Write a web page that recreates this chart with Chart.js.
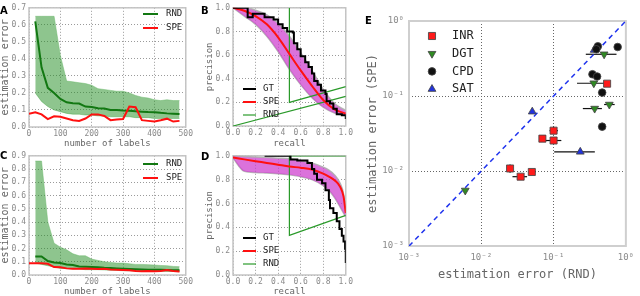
<!DOCTYPE html>
<html lang="en">
<head>
<meta charset="UTF-8">
<title>Estimation error figure</title>
<style>
  body { margin: 0; background: #fff; width: 640px; height: 296px; position: relative; overflow: hidden; }
  canvas { position: absolute; }
  .tag { position: absolute; font: bold 10px "DejaVu Sans", sans-serif; line-height: 1; color: #000; }
</style>
<script src="https://cdn.jsdelivr.net/npm/chart.js"></script>
</head>
<body>
<canvas id="chartA" width="195" height="148" style="left:0;top:0"></canvas>
<canvas id="chartC" width="195" height="148" style="left:0;top:148px"></canvas>
<canvas id="chartB" width="155" height="148" style="left:200px;top:0"></canvas>
<canvas id="chartD" width="155" height="148" style="left:200px;top:148px"></canvas>
<canvas id="chartE" width="278" height="296" style="left:362px;top:0"></canvas>
<div class="tag" style="left:0;top:6px">A</div>
<div class="tag" style="left:201px;top:6px">B</div>
<div class="tag" style="left:0;top:151px">C</div>
<div class="tag" style="left:201px;top:152px">D</div>
<div class="tag" style="left:365px;top:16px">E</div>

<script>
// ---------- data: A and C (error vs number of labels) ----------
const labelCounts = [20, 40, 60, 80, 100, 120, 140, 160, 180, 200, 220, 240, 260, 280, 300, 320, 340, 360, 380, 400, 420, 440, 460, 480];
const speCounts = [0, 20, 40, 60, 80, 100, 120, 140, 160, 180, 200, 220, 240, 260, 280, 300, 320, 340, 360, 380, 400, 420, 440, 460, 480];

const rndMeanA = [0.62, 0.35, 0.23, 0.2, 0.165, 0.145, 0.14, 0.138, 0.12, 0.118, 0.11, 0.108, 0.1, 0.1, 0.097, 0.095, 0.092, 0.09, 0.088, 0.087, 0.083, 0.08, 0.078, 0.076];
const rndHighA = [0.65, 0.65, 0.65, 0.65, 0.42, 0.27, 0.265, 0.26, 0.255, 0.245, 0.225, 0.22, 0.215, 0.21, 0.21, 0.2, 0.185, 0.175, 0.17, 0.16, 0.155, 0.16, 0.155, 0.155];
const rndLowA = [0.2, 0.15, 0.12, 0.1, 0.09, 0.08, 0.075, 0.075, 0.07, 0.07, 0.065, 0.065, 0.06, 0.06, 0.06, 0.06, 0.055, 0.055, 0.055, 0.05, 0.05, 0.05, 0.05, 0.05];
const speA = [0.078, 0.087, 0.074, 0.046, 0.063, 0.06, 0.05, 0.04, 0.036, 0.05, 0.074, 0.074, 0.065, 0.04, 0.044, 0.047, 0.12, 0.116, 0.04, 0.036, 0.032, 0.04, 0.049, 0.032, 0.036];

const rndMeanC = [0.14, 0.14, 0.105, 0.095, 0.09, 0.08, 0.075, 0.065, 0.062, 0.06, 0.058, 0.054, 0.052, 0.05, 0.047, 0.045, 0.043, 0.042, 0.04, 0.04, 0.04, 0.038, 0.036, 0.035];
const rndHighC = [0.86, 0.86, 0.4, 0.24, 0.21, 0.19, 0.16, 0.145, 0.145, 0.12, 0.11, 0.1, 0.095, 0.09, 0.09, 0.085, 0.08, 0.08, 0.078, 0.075, 0.072, 0.07, 0.065, 0.063];
const rndLowC = [0.09, 0.08, 0.07, 0.06, 0.05, 0.05, 0.045, 0.045, 0.04, 0.04, 0.04, 0.038, 0.036, 0.035, 0.032, 0.032, 0.03, 0.03, 0.03, 0.028, 0.028, 0.027, 0.027, 0.025];
const speC = [0.088, 0.088, 0.088, 0.085, 0.06, 0.058, 0.05, 0.048, 0.048, 0.05, 0.048, 0.045, 0.047, 0.042, 0.04, 0.037, 0.035, 0.03, 0.028, 0.03, 0.028, 0.03, 0.037, 0.03, 0.027];

// ---------- data: B and D (precision vs recall) ----------
const recallB = [0, 0.1, 0.2, 0.3, 0.4, 0.5, 0.6, 0.7, 0.8, 0.9, 1.0];
const speB = [1.0, 0.975, 0.93, 0.86, 0.75, 0.61, 0.47, 0.34, 0.22, 0.14, 0.105];
const speHighB = [1.0, 1.0, 0.98, 0.94, 0.87, 0.76, 0.62, 0.47, 0.31, 0.19, 0.13];
const speLowB = [1.0, 0.93, 0.86, 0.76, 0.63, 0.48, 0.35, 0.24, 0.16, 0.11, 0.09];
const gtRecallB = [0, 0.13, 0.175, 0.28, 0.36, 0.4, 0.44, 0.48, 0.53, 0.54, 0.57, 0.6, 0.64, 0.67, 0.7, 0.72, 0.75, 0.78, 0.82, 0.83, 0.86, 0.89, 0.92, 0.965, 1.0];
const gtPrecB = [1.0, 0.92, 0.95, 0.92, 0.9, 0.86, 0.83, 0.8, 0.79, 0.7, 0.65, 0.59, 0.54, 0.5, 0.445, 0.38, 0.35, 0.3, 0.27, 0.21, 0.19, 0.145, 0.1, 0.09, 0.06];
const rndRecallB1 = [0.5, 0.5, 1.0];
const rndPrecB1 = [1.0, 0.2, 0.333];
const rndRecallB2 = [0, 1.0];
const rndPrecB2 = [0, 0.25];

const recallD = [0, 0.1, 0.2, 0.3, 0.4, 0.5, 0.6, 0.7, 0.8, 0.85, 0.9, 0.95, 0.98, 1.0];
const speD = [0.985, 0.97, 0.955, 0.94, 0.925, 0.91, 0.9, 0.885, 0.85, 0.825, 0.795, 0.74, 0.66, 0.52];
const speHighD = [1.0, 0.995, 0.99, 0.985, 0.98, 0.975, 0.96, 0.94, 0.905, 0.88, 0.84, 0.77, 0.68, 0.52];
const speLowD = [0.98, 0.87, 0.86, 0.855, 0.85, 0.84, 0.825, 0.8, 0.75, 0.71, 0.65, 0.57, 0.52, 0.49];
const gtRecallD = [0.28, 0.5, 0.51, 0.57, 0.66, 0.7, 0.72, 0.745, 0.79, 0.82, 0.85, 0.86, 0.89, 0.92, 0.944, 0.965, 0.98, 0.994, 1.0];
const gtPrecD = [1.0, 1.0, 0.97, 0.96, 0.94, 0.89, 0.85, 0.8, 0.77, 0.71, 0.63, 0.56, 0.52, 0.45, 0.385, 0.33, 0.28, 0.22, 0.1];
const rndRecallD = [1.0, 0.5, 0.5, 1.0];
const rndPrecD = [1.0, 1.0, 0.333, 0.5];

// ---------- data: E (log-log scatter) ----------
const logTicks = [0.001, 0.01, 0.1, 1];
const logTickLabels = ['10\u207B\u00B3', '10\u207B\u00B2', '10\u207B\u00B9', '10\u2070'];
const diagX = [0.001, 1];
const diagY = [0.001, 1];

const inrX = [0.025, 0.035, 0.05, 0.07, 0.1, 0.1, 0.55];
const inrY = [0.0108, 0.0084, 0.0097, 0.027, 0.0255, 0.0345, 0.146];
const inrXErr = [null, [0.027, 0.043], [0.045, 0.056], null, [0.072, 0.128], [0.088, 0.115], [0.5, 0.6]];
const inrYErr = [[0.0095, 0.0122], null, null, null, null, [0.031, 0.039], null];

const dgtX = [0.006, 0.37, 0.59, 0.36, 0.5];
const dgtY = [0.0055, 0.068, 0.077, 0.148, 0.36];
const dgtXErr = [null, [0.254, 0.466], [0.5, 0.7], [0.211, 0.59], [0.279, 0.742]];
const dgtYErr = [null, null, null, null, null];

const cpdX = [0.77, 0.41, 0.39, 0.345, 0.4, 0.47, 0.47];
const cpdY = [0.45, 0.46, 0.42, 0.195, 0.182, 0.111, 0.039];
const cpdXErr = [null, null, null, null, null, [0.42, 0.53], [0.42, 0.53]];
const cpdYErr = [null, null, null, null, null, null, [0.035, 0.043]];

const satX = [0.0507, 0.234, 0.364];
const satY = [0.0618, 0.018, 0.41];
const satXErr = [null, [0.102, 0.372], null];
const satYErr = [null, null, null];

// ---------- helpers ----------
const MONO = "'DejaVu Sans Mono', monospace";
const TICK = '#8a8a8a';
const TITLE = '#666';

function pts(xs, ys) {
  return xs.map((x, i) => ({ x: x, y: ys[i] }));
}

// gray box round the plot area
const plotFrame = {
  id: 'plotFrame',
  beforeDatasetsDraw(chart, args, opts) {
    const a = chart.chartArea;
    const ctx = chart.ctx;
    ctx.save();
    ctx.strokeStyle = opts.color || '#c4c4c4';
    ctx.lineWidth = opts.width || 1.5;
    ctx.strokeRect(a.left, a.top, a.right - a.left, a.bottom - a.top);
    ctx.restore();
  }
};

// legend drawn inside the plot
const insideLegend = {
  id: 'insideLegend',
  afterDatasetsDraw(chart, args, opts) {
    const ctx = chart.ctx;
    const items = chart.data.datasets.filter(d => d.legendText);
    ctx.save();
    ctx.font = opts.font;
    ctx.textBaseline = 'middle';
    items.forEach((d, i) => {
      const y = opts.y + i * opts.gap;
      if (opts.marker) {
        ctx.fillStyle = d.backgroundColor;
        ctx.strokeStyle = d.borderColor;
        ctx.lineWidth = d.borderWidth;
        Chart.helpers.drawPoint(ctx, {
          pointStyle: d.pointStyle, radius: d.pointRadius,
          rotation: d.rotation || 0, borderWidth: d.borderWidth
        }, opts.x, y);
      } else {
        ctx.strokeStyle = d.borderColor;
        ctx.lineWidth = d.borderWidth;
        ctx.beginPath();
        ctx.moveTo(opts.x, y);
        ctx.lineTo(opts.x + opts.len, y);
        ctx.stroke();
      }
      ctx.fillStyle = '#222';
      ctx.fillText(d.legendText, opts.textX, y);
    });
    ctx.restore();
  }
};

// horizontal / vertical error bars for panel E
const errorBars = {
  id: 'errorBars',
  beforeDatasetsDraw(chart) {
    const sx = chart.scales.x, sy = chart.scales.y;
    const ctx = chart.ctx;
    ctx.save();
    ctx.strokeStyle = '#111';
    ctx.lineWidth = 1.2;
    chart.data.datasets.forEach(d => {
      if (!d.xErr) return;
      d.data.forEach((p, i) => {
        const xe = d.xErr[i], ye = d.yErr[i];
        ctx.beginPath();
        if (xe) {
          const py = sy.getPixelForValue(p.y);
          ctx.moveTo(sx.getPixelForValue(xe[0]), py);
          ctx.lineTo(sx.getPixelForValue(xe[1]), py);
        }
        if (ye) {
          const px = sx.getPixelForValue(p.x);
          ctx.moveTo(px, sy.getPixelForValue(ye[0]));
          ctx.lineTo(px, sy.getPixelForValue(ye[1]));
        }
        ctx.stroke();
      });
    });
    ctx.restore();
  }
};

function axis(o) {
  return {
    type: o.type || 'linear',
    min: o.min,
    max: o.max,
    afterFit: s => { if (o.w) s.width = o.w; if (o.h) s.height = o.h; },
    afterBuildTicks: o.fixedTicks ? (s => { s.ticks = o.fixedTicks.map(v => ({ value: v })); }) : undefined,
    ticks: {
      stepSize: o.step,
      color: TICK,
      font: { family: MONO, size: o.tickSize || 8 },
      padding: o.pad,
      autoSkip: false,
      maxRotation: 0,
      callback: o.fmt
    },
    grid: { color: o.gridColor || '#9a9a9a', drawTicks: false, lineWidth: 1 },
    border: { display: false, dash: [1, 2] },
    title: {
      display: true,
      text: o.title,
      color: TITLE,
      font: { family: MONO, size: o.titleSize || 9, lineHeight: 1 },
      padding: o.titlePad || 0
    }
  };
}

const fmt1 = v => Number(v).toFixed(1);
const fmt0 = v => String(v);

function errorPanel(id, mean, high, low, spe, yMax, legendY) {
  new Chart(document.getElementById(id), {
    type: 'line',
    data: {
      datasets: [
        { legendText: 'RND', data: pts(labelCounts, mean), borderColor: '#127812', borderWidth: 2, pointRadius: 0, order: 1 },
        { legendText: 'SPE', data: pts(speCounts, spe), borderColor: '#ff1010', borderWidth: 2, pointRadius: 0, order: 0 },
        { data: pts(labelCounts, high), borderColor: 'rgba(110,185,110,0.5)', borderWidth: 1, pointRadius: 0,
          backgroundColor: 'rgba(30,140,30,0.5)', fill: '+1', order: 2 },
        { data: pts(labelCounts, low), borderColor: 'rgba(110,185,110,0.5)', borderWidth: 1, pointRadius: 0, order: 3 }
      ]
    },
    options: {
      responsive: false,
      animation: false,
      events: [],
      layout: { padding: { top: 4, right: 7, left: 0, bottom: 0 } },
      scales: {
        x: axis({ min: 0, max: 500, step: 100, fmt: fmt0, title: 'number of labels', h: 21, pad: 2 }),
        y: axis({ min: 0, max: yMax, step: 0.1, fmt: fmt1, title: 'estimation error', w: 29, pad: 3, titleSize: 10 })
      },
      plugins: {
        legend: { display: false },
        tooltip: { enabled: false },
        plotFrame: {},
        insideLegend: { x: 143, y: legendY, gap: 14, len: 15, textX: 166, font: '9px ' + MONO }
      }
    },
    plugins: [plotFrame, insideLegend]
  });
}

function prPanel(id, top, gtX, gtY, rec, spe, high, low, rndSets, legendY) {
  const datasets = [
    { legendText: 'GT', data: pts(gtX, gtY), borderColor: '#000', borderWidth: 2, pointRadius: 0, stepped: 'before', order: 0 },
    { legendText: 'SPE', data: pts(rec, spe), borderColor: '#ff1010', borderWidth: 2, pointRadius: 0, cubicInterpolationMode: 'monotone', order: 1 }
  ];
  rndSets.forEach((r, i) => {
    datasets.push({ legendText: i === 0 ? 'RND' : undefined, data: pts(r[0], r[1]), borderColor: '#2a9a2a', borderWidth: 1.2, pointRadius: 0, order: 2 });
  });
  datasets.push(
    { data: pts(rec, high), borderColor: 'rgba(175,175,175,0.9)', borderWidth: 1.5, pointRadius: 0, cubicInterpolationMode: 'monotone',
      backgroundColor: 'rgba(205,60,205,0.72)', fill: '+1', order: 4 },
    { data: pts(rec, low), borderColor: 'rgba(175,175,175,0.9)', borderWidth: 1.5, pointRadius: 0, cubicInterpolationMode: 'monotone', order: 5 }
  );
  new Chart(document.getElementById(id), {
    type: 'line',
    data: { datasets: datasets },
    options: {
      responsive: false,
      animation: false,
      events: [],
      layout: { padding: { top: top, right: 8, left: 0, bottom: 0 } },
      scales: {
        x: axis({ min: 0, max: 1, step: 0.2, fmt: fmt1, title: 'recall', h: 148 - top - 122, pad: 2 }),
        y: axis({ min: 0, max: 1, step: 0.2, fmt: fmt1, title: 'precision', w: 33, pad: 3, titlePad: { top: 5.5, bottom: 0 } })
      },
      plugins: {
        legend: { display: false },
        tooltip: { enabled: false },
        plotFrame: {},
        insideLegend: { x: 43, y: legendY, gap: 13, len: 13, textX: 63, font: '9px ' + MONO }
      }
    },
    plugins: [plotFrame, insideLegend]
  });
}

errorPanel('chartA', rndMeanA, rndHighA, rndLowA, speA, 0.7, 14);
errorPanel('chartC', rndMeanC, rndHighC, rndLowC, speC, 0.9, 16);

prPanel('chartB', 4, gtRecallB, gtPrecB, recallB, speB, speHighB, speLowB,
  [[rndRecallB1, rndPrecB1], [rndRecallB2, rndPrecB2]], 89);
prPanel('chartD', 5, gtRecallD, gtPrecD, recallD, speD, speHighD, speLowD,
  [[rndRecallD, rndPrecD]], 90);

// ---------- panel E ----------
const markerEdge = 'rgba(70,70,70,0.85)';
function markerSet(label, xs, ys, xErr, yErr, color, style, radius, rotation, order) {
  return {
    legendText: label, data: pts(xs, ys), xErr: xErr, yErr: yErr,
    backgroundColor: color, borderColor: markerEdge, borderWidth: 1,
    pointStyle: style, pointRadius: radius, rotation: rotation, order: order
  };
}

new Chart(document.getElementById('chartE'), {
  type: 'scatter',
  data: {
    datasets: [
      markerSet('INR', inrX, inrY, inrXErr, inrYErr, '#ff1a1a', 'rect', 5, 0, 0),
      markerSet('DGT', dgtX, dgtY, dgtXErr, dgtYErr, '#2f8a22', 'triangle', 4.5, 180, 1),
      markerSet('CPD', cpdX, cpdY, cpdXErr, cpdYErr, '#111', 'circle', 3.8, 0, 2),
      markerSet('SAT', satX, satY, satXErr, satYErr, '#2233dd', 'triangle', 4.5, 0, 3),
      { data: pts(diagX, diagY), showLine: true, borderColor: '#1f33ee', borderWidth: 1.5, borderDash: [5, 4], pointRadius: 0, order: 4 }
    ]
  },
  options: {
    responsive: false,
    animation: false,
    events: [],
    layout: { padding: { top: 21, right: 8, left: 0, bottom: 0 } },
    scales: {
      x: axis({ type: 'logarithmic', min: 0.001, max: 1, fixedTicks: logTicks, fmt: (v, i) => logTickLabels[i],
        title: 'estimation error (RND)', titleSize: 12, tickSize: 9, h: 50, pad: 6, gridColor: '#666',
        titlePad: { top: 0, bottom: 15 } }),
      y: axis({ type: 'logarithmic', min: 0.001, max: 1, fixedTicks: logTicks, fmt: (v, i) => logTickLabels[i],
        title: 'estimation error (SPE)', titleSize: 12, tickSize: 9, w: 47, pad: 5, gridColor: '#666',
        titlePad: { top: 5, bottom: 0 } })
    },
    plugins: {
      legend: { display: false },
      tooltip: { enabled: false },
      plotFrame: { color: '#cfcfcf', width: 2 },
      insideLegend: { marker: true, x: 70, y: 36, gap: 17.7, textX: 90, font: '12px ' + MONO }
    }
  },
  plugins: [plotFrame, errorBars, insideLegend]
});
</script>
</body>
</html>
